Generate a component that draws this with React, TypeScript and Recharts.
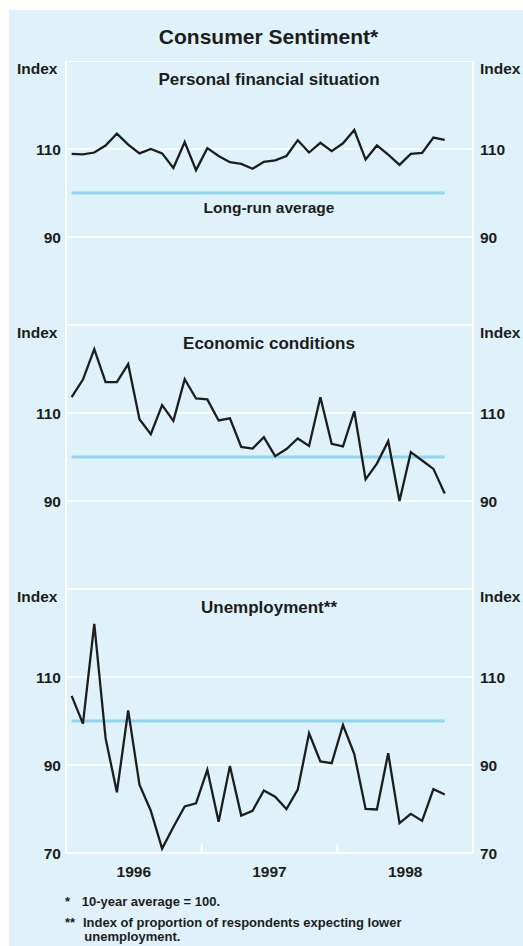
import React from "react";
import {
  LineChart, Line, XAxis, YAxis, CartesianGrid, ReferenceLine, ReferenceArea,
} from "recharts";

const FONT = '"Liberation Sans", Arial, Helvetica, sans-serif';
const INK = "#1d1d1b";
const BG = "#dff2fa";
const AVG_BLUE = "#8dd6f2";

// monthly observations, Jan 1996 - Oct 1998
const months = [
  "Jan-96", "Feb-96", "Mar-96", "Apr-96", "May-96", "Jun-96",
  "Jul-96", "Aug-96", "Sep-96", "Oct-96", "Nov-96", "Dec-96",
  "Jan-97", "Feb-97", "Mar-97", "Apr-97", "May-97", "Jun-97",
  "Jul-97", "Aug-97", "Sep-97", "Oct-97", "Nov-97", "Dec-97",
  "Jan-98", "Feb-98", "Mar-98", "Apr-98", "May-98", "Jun-98",
  "Jul-98", "Aug-98", "Sep-98", "Oct-98",
];

const personal = [
  108.9, 108.8, 109.2, 110.8, 113.5, 111.0, 109.0, 110.0, 109.0, 105.7, 111.6, 105.2,
  110.2, 108.4, 107.0, 106.6, 105.5, 107.1, 107.4, 108.4, 112.0, 109.2, 111.4, 109.5,
  111.3, 114.3, 107.6, 110.8, 108.7, 106.4, 108.9, 109.1, 112.6, 112.1,
];

const economic = [
  113.6, 117.6, 124.5, 117.0, 117.0, 121.1, 108.6, 105.2, 111.8, 108.2, 117.7, 113.3,
  113.1, 108.3, 108.8, 102.3, 101.9, 104.5, 100.2, 101.8, 104.2, 102.5, 113.6, 103.0,
  102.4, 110.4, 94.9, 98.5, 103.6, 90.0, 101.1, 99.2, 97.3, 91.7,
];

const unemployment = [
  105.7, 99.4, 122.1, 96.1, 83.8, 102.4, 85.5, 79.6, 71.0, 75.9, 80.6, 81.3,
  88.9, 77.1, 89.8, 78.5, 79.6, 84.2, 82.8, 80.0, 84.4, 97.2, 90.8, 90.4,
  99.1, 92.5, 80.0, 79.9, 92.7, 76.8, 78.9, 77.3, 84.5, 83.3,
];

const years = ["1996", "1997", "1998"];
const longRunAverage = 100;

const data = months.map((m, i) => ({
  month: m,
  t: i + 0.5,
  personal: personal[i],
  economic: economic[i],
  unemployment: unemployment[i],
}));

const yearCentres = years.map((_y, i) => i * 12 + 6);
const yearBoundaries = years.slice(1).map((_y, i) => (i + 1) * 12);

const tickStyle = { fill: INK, fontSize: 15.5, fontWeight: 700, fontFamily: FONT };

function Panel({ top, dataKey, showYears }: { top: number; dataKey: string; showYears?: boolean }) {
  const yTicks = showYears ? [70, 90, 110] : [90, 110];
  return (
    <div style={{ position: "absolute", left: 0, top }}>
      <LineChart
        width={523}
        height={showYears ? 294 : 264}
        data={data}
        margin={{ top: 0, right: 0, bottom: 0, left: 0 }}
      >
        <CartesianGrid vertical={false} stroke="#ffffff" strokeWidth={1.5} />
        <XAxis
          type="number"
          dataKey="t"
          domain={[0, 36]}
          hide={!showYears}
          height={30}
          ticks={yearCentres}
          tickFormatter={(v: number) => years[Math.floor(v / 12)]}
          tickLine={false}
          axisLine={false}
          tickSize={0}
          tickMargin={13}
          tick={tickStyle}
        />
        <YAxis
          domain={[70, 130]}
          ticks={yTicks}
          width={66}
          tickLine={false}
          axisLine={false}
          tickSize={0}
          tickMargin={5}
          tick={tickStyle}
        />
        <YAxis
          yAxisId="r"
          orientation="right"
          domain={[70, 130]}
          ticks={yTicks}
          width={50}
          tickLine={false}
          axisLine={false}
          tickSize={0}
          tickMargin={7}
          tick={tickStyle}
        />
        <ReferenceArea
          x1={0} x2={36} y1={70} y2={130}
          fill="none" stroke="#ffffff" strokeWidth={2}
        />
        {showYears && yearBoundaries.map((b) => (
          <ReferenceLine
            key={b}
            segment={[{ x: b, y: 70 }, { x: b, y: 72 }]}
            stroke="#ffffff"
            strokeWidth={2}
          />
        ))}
        <ReferenceLine
          segment={[
            { x: data[0].t, y: longRunAverage },
            { x: data[data.length - 1].t, y: longRunAverage },
          ]}
          stroke={AVG_BLUE}
          strokeWidth={3}
        />
        {/* same series on the right-hand scale, invisible, so that axis has data */}
        <Line
          yAxisId="r"
          type="linear"
          dataKey={dataKey}
          stroke="none"
          dot={false}
          activeDot={false}
          isAnimationActive={false}
        />
        <Line
          type="linear"
          dataKey={dataKey}
          stroke={INK}
          strokeWidth={2.3}
          dot={false}
          isAnimationActive={false}
        />
      </LineChart>
    </div>
  );
}

const panelTops = [60.5, 324.5, 588.5];
const panelTitles = ["Personal financial situation", "Economic conditions", "Unemployment**"];

export default function App() {
  return (
    <div style={{ position: "absolute", left: 0, top: 0, width: 523, height: 946, background: "#ffffff", overflow: "hidden" }}>
      <div style={{ position: "absolute", left: 9, top: 10, width: 514, height: 936, background: BG }} />
      <Panel top={panelTops[0]} dataKey="personal" />
      <Panel top={panelTops[1]} dataKey="economic" />
      <Panel top={panelTops[2]} dataKey="unemployment" showYears />
      <svg
        width={523}
        height={946}
        style={{ position: "absolute", left: 0, top: 0, pointerEvents: "none" }}
        fontFamily={FONT}
        fontWeight={700}
        fill={INK}
      >
        <text x={268.5} y={44.3} fontSize={21} textAnchor="middle">Consumer Sentiment*</text>
        {panelTops.map((t, i) => (
          <g key={i}>
            <text x={17} y={t + 13.5} fontSize={15.5}>Index</text>
            <text x={480} y={t + 13.5} fontSize={15.5}>Index</text>
            <text x={269} y={t + 24.6} fontSize={17} textAnchor="middle">{panelTitles[i]}</text>
          </g>
        ))}
        <text x={269} y={212.5} fontSize={15.5} textAnchor="middle">Long-run average</text>
        <text x={65} y={906} fontSize={13}>*</text>
        <text x={81.7} y={906} fontSize={13}>10-year average = 100.</text>
        <text x={65} y={927} fontSize={13}>**</text>
        <text x={83} y={927} fontSize={13}>Index of proportion of respondents expecting lower</text>
        <text x={84.3} y={941} fontSize={13}>unemployment.</text>
      </svg>
    </div>
  );
}
